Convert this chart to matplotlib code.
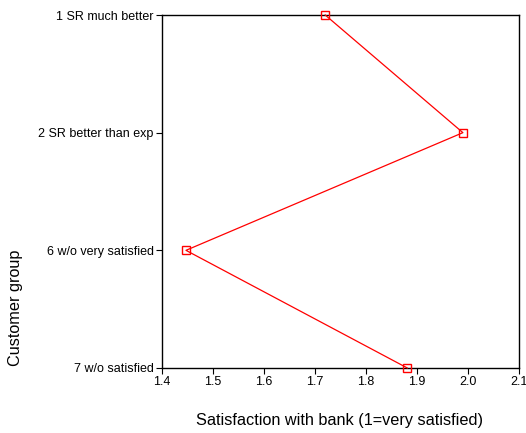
import matplotlib
matplotlib.use("Agg")
import matplotlib.pyplot as plt

groups = ["1 SR much better", "2 SR better than exp", "6 w/o very satisfied", "7 w/o satisfied"]
satisfaction = [1.72, 1.99, 1.447, 1.881]
xticks = [1.4, 1.5, 1.6, 1.7, 1.8, 1.9, 2.0, 2.1]

plt.rcParams['font.family'] = ['Liberation Sans', 'DejaVu Sans']

W, H = 526, 433
fig = plt.figure(figsize=(W/100, H/100), dpi=100)
ax = fig.add_axes([162/W, 1-368/H, (519-162)/W, (368-15)/H])

ypos = list(range(len(groups)))[::-1]
ax.plot(satisfaction, ypos, color='red', lw=0.9, marker='s', ms=6,
        mfc='none', mec='red', mew=1.0, clip_on=False, zorder=5)

ax.set_xlim(1.4, 2.1)
ax.set_ylim(-0.0, len(groups) - 1)
ax.set_xticks(xticks)
ax.set_xticklabels([f"{v:.1f}" for v in xticks], fontsize=9)
ax.set_yticks(ypos)
ax.set_yticklabels(groups, fontsize=9)
ax.tick_params(direction='out', length=4, width=0.8, colors='black', pad=2)
for s in ax.spines.values():
    s.set_linewidth(1.0)

fig.text(340/W, 1-420/H, "Satisfaction with bank (1=very satisfied)", fontsize=11.7,
         ha='center', va='center')
fig.text(16/W, 1-308/H, "Customer group", fontsize=11.7, rotation=90,
         ha='center', va='center')

fig.savefig("out.png", dpi=100)
